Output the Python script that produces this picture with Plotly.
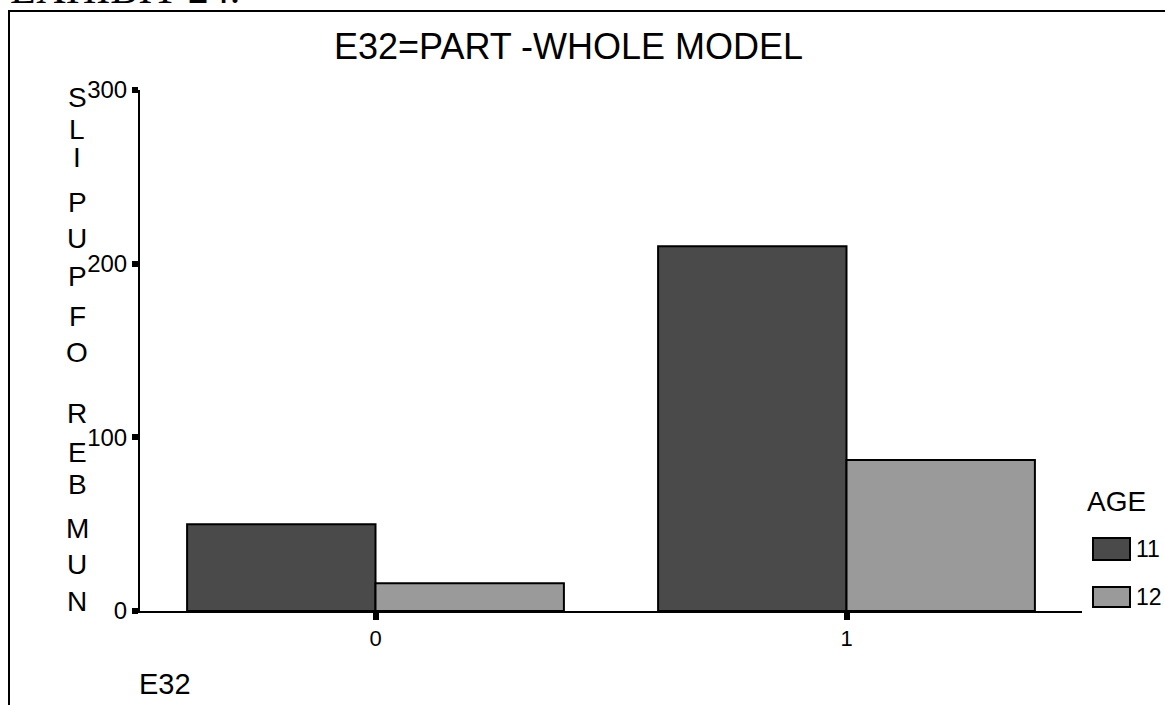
import plotly.graph_objects as go

# Counts of pupils by E32 response, split by age group
categories = [0, 1]
age_groups = ["11", "12"]
pupils_age_11 = [50, 210]
pupils_age_12 = [16, 87]
y_ticks = [0, 100, 200, 300]
axis_letters = list("NUMBER OF PUPILS")

colors = {"11": "#4a4a4a", "12": "#9a9a9a"}

W, H = 1165, 705
L, R, T, B = 140, 83, 90, 94
PW, PH = W - L - R, H - T - B


def px(x):
    return (x - L) / PW


def py(y):
    return (H - B - y) / PH


font_family = "Liberation Sans, Arial, sans-serif"

fig = go.Figure()
for name, vals in zip(age_groups, [pupils_age_11, pupils_age_12]):
    fig.add_trace(go.Bar(
        x=categories, y=vals, name=name,
        marker=dict(color=colors[name], line=dict(color="black", width=2)),
        showlegend=False,
    ))

shapes = [
    # outer frame
    dict(type="line", xref="paper", yref="paper", x0=px(8), x1=px(W + 20),
         y0=py(11), y1=py(11), line=dict(color="black", width=2)),
    dict(type="line", xref="paper", yref="paper", x0=px(9), x1=px(9),
         y0=py(11), y1=py(H + 20), line=dict(color="black", width=2)),
]

annotations = [
    # page heading above the frame, mostly running off the top edge
    dict(text="EXHIBIT 24.", xref="paper", yref="paper", x=px(8), y=py(-36),
         xanchor="left", yanchor="top", showarrow=False,
         font=dict(family="Liberation Serif, serif", size=42, color="black")),
    dict(text="E32=PART -WHOLE MODEL", xref="paper", yref="paper",
         x=px(568), y=py(46), xanchor="center", yanchor="middle", showarrow=False,
         font=dict(family=font_family, size=36, color="black")),
    dict(text="E32", xref="paper", yref="paper", x=px(137), y=py(684),
         xanchor="left", yanchor="middle", showarrow=False,
         font=dict(family=font_family, size=29, color="black")),
    dict(text="AGE", xref="paper", yref="paper", x=px(1116), y=py(501),
         xanchor="center", yanchor="middle", showarrow=False,
         font=dict(family=font_family, size=28, color="black")),
]

# vertical stacked axis title, read bottom to top
letter_y = [601, 564, 528, 484, 452, 414, None, 352, 316, None, 276, 238, 202, 157, 129, 98]
for ch, yy in zip(axis_letters, letter_y):
    if ch == " ":
        continue
    annotations.append(dict(text=ch, xref="paper", yref="paper", x=px(77), y=py(yy),
                            xanchor="center", yanchor="middle", showarrow=False,
                            font=dict(family=font_family, size=28, color="black")))

# legend boxes
for name, (y0, y1) in zip(age_groups, [(538, 560), (587, 607)]):
    shapes.append(dict(type="rect", xref="paper", yref="paper",
                       x0=px(1093), x1=px(1130), y0=py(y1), y1=py(y0),
                       fillcolor=colors[name], line=dict(color="black", width=2)))
    annotations.append(dict(text=name, xref="paper", yref="paper", x=px(1134),
                            y=py((y0 + y1) / 2), xanchor="left", yanchor="middle",
                            showarrow=False,
                            font=dict(family=font_family, size=23, color="black")))

fig.update_layout(
    width=W, height=H,
    margin=dict(l=L, r=R, t=T, b=B),
    paper_bgcolor="white", plot_bgcolor="white",
    barmode="group", bargap=0.2, bargroupgap=0,
    shapes=shapes, annotations=annotations,
    font=dict(family=font_family, color="black"),
    xaxis=dict(
        range=[-0.5, 1.5], tickvals=categories, ticktext=[str(c) for c in categories],
        showline=True, linecolor="black", linewidth=2, showgrid=False, zeroline=False,
        ticks="outside", ticklen=7, tickwidth=6, tickcolor="black",
        tickfont=dict(size=22, family=font_family),
    ),
    yaxis=dict(
        range=[0, 300], tickvals=y_ticks, ticktext=[str(v) for v in y_ticks],
        showline=True, linecolor="black", linewidth=2, showgrid=False, zeroline=False,
        ticks="outside", ticklen=6, tickwidth=6, tickcolor="black",
        tickfont=dict(size=24, family=font_family), ticklabelstandoff=0,
    ),
)

fig.write_html("out.html")
